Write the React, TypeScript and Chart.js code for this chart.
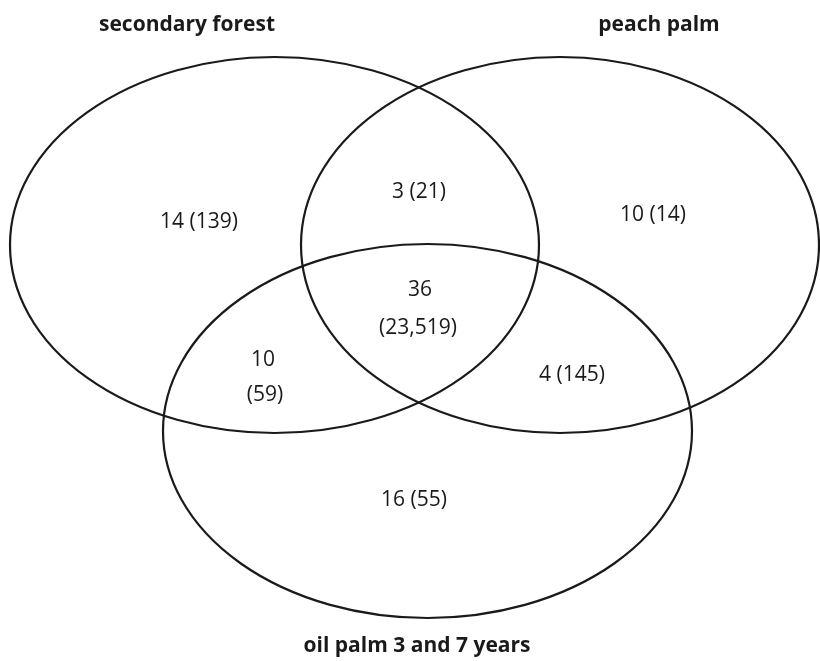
import React, { useEffect, useRef } from "react";
import { Chart, registerables } from "chart.js";

Chart.register(...registerables);

// Sets (ellipses) in data units of a 820 x 661 plane
const setNames = ["secondary forest", "peach palm", "oil palm 3 and 7 years"];
const setCenterX = [274.5, 560, 427.5];
const setCenterY = [245, 245, 431];
const setRadiusX = [264.5, 259, 264.5];
const setRadiusY = [188, 188, 187];
const setNameX = [187, 659, 417];
const setNameY = [25, 25, 646];

// Region counts
const regionLabels = ["14 (139)", "3 (21)", "10 (14)", "36", "(23,519)", "10", "(59)", "4 (145)", "16 (55)"];
const regionX = [199, 419, 653, 420, 418, 263, 265, 572, 414];
const regionY = [222, 192, 215, 290, 328, 360, 395, 375, 500];

const FONT = "'Open Sans', 'Noto Sans', sans-serif";

const vennPlugin = {
  id: "vennPlugin",
  afterDatasetsDraw(chart: any) {
    const { ctx, scales } = chart;
    const xs = scales.x;
    const ys = scales.y;
    ctx.save();
    ctx.strokeStyle = "#1a1a1a";
    ctx.lineWidth = 2.2;
    for (let i = 0; i < setCenterX.length; i++) {
      const cx = xs.getPixelForValue(setCenterX[i]);
      const cy = ys.getPixelForValue(setCenterY[i]);
      const rx = Math.abs(xs.getPixelForValue(setCenterX[i] + setRadiusX[i]) - cx);
      const ry = Math.abs(ys.getPixelForValue(setCenterY[i] + setRadiusY[i]) - cy);
      ctx.beginPath();
      ctx.ellipse(cx, cy, rx, ry, 0, 0, Math.PI * 2);
      ctx.stroke();
    }
    ctx.textAlign = "center";
    ctx.textBaseline = "middle";
    ctx.fillStyle = "#1a1a1a";
    const regionMeta = chart.getDatasetMeta(0);
    ctx.font = `21px ${FONT}`;
    regionMeta.data.forEach((pt: any, i: number) => {
      ctx.fillText(regionLabels[i], pt.x, pt.y);
    });
    const nameMeta = chart.getDatasetMeta(1);
    ctx.font = `bold 21px ${FONT}`;
    nameMeta.data.forEach((pt: any, i: number) => {
      ctx.fillText(setNames[i], pt.x, pt.y);
    });
    ctx.restore();
  },
};

export default function App() {
  const canvasRef = useRef<HTMLCanvasElement | null>(null);

  useEffect(() => {
    if (!canvasRef.current) return;
    const chart = new Chart(canvasRef.current, {
      type: "scatter",
      data: {
        datasets: [
          {
            label: "regions",
            data: regionX.map((x, i) => ({ x, y: regionY[i] })),
            pointRadius: 0,
            pointHoverRadius: 0,
          },
          {
            label: "sets",
            data: setNameX.map((x, i) => ({ x, y: setNameY[i] })),
            pointRadius: 0,
            pointHoverRadius: 0,
          },
        ],
      },
      options: {
        animation: false,
        responsive: true,
        maintainAspectRatio: false,
        devicePixelRatio: 1,
        layout: { padding: 0 },
        plugins: {
          legend: { display: false },
          tooltip: { enabled: false },
        },
        events: [],
        scales: {
          x: { type: "linear", min: 0, max: 820, display: false },
          y: { type: "linear", min: 0, max: 661, reverse: true, display: false },
        },
      },
      plugins: [vennPlugin],
    });
    return () => chart.destroy();
  }, []);

  return (
    <div
      style={{
        position: "fixed",
        left: 0,
        top: 0,
        width: 820,
        height: 661,
        background: "#ffffff",
      }}
    >
      <canvas ref={canvasRef} style={{ width: "820px", height: "661px" }} />
    </div>
  );
}
